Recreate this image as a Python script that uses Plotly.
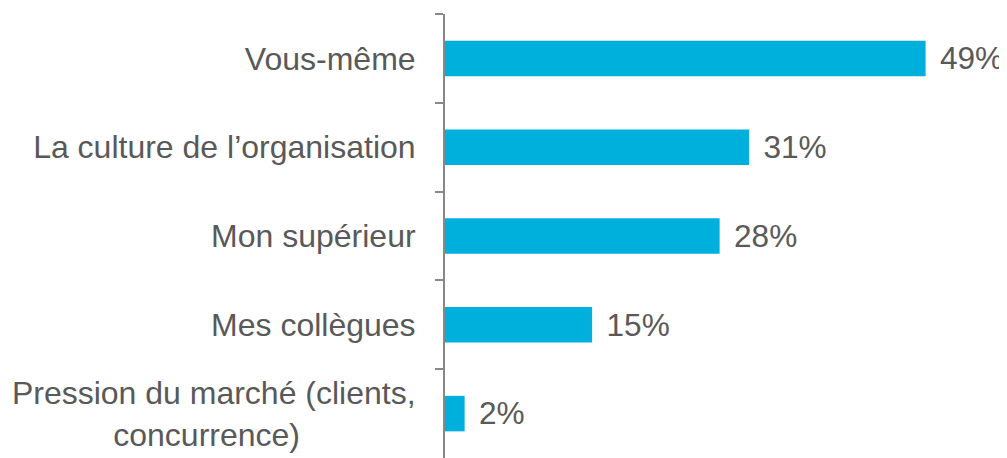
import plotly.graph_objects as go

categories = ["Vous-même", "La culture de l’organisation", "Mon supérieur", "Mes collègues",
              "Pression du marché (clients,<br>concurrence)" + "&nbsp;" * 13]
values = [49, 31, 28, 15, 2]

fig = go.Figure(go.Bar(
    x=values, y=categories, orientation="h",
    marker=dict(color="#00B0DC", line=dict(width=0)),
    width=0.4,
    text=[f"{v}%" for v in values],
    texttemplate=" \u200a%{text}",
    textposition="outside",
    textfont=dict(family="Liberation Sans, Arial", size=32, color="#595959"),
    cliponaxis=False,
))
fig.update_layout(
    width=999, height=450,
    margin=dict(l=437, r=0, t=6, b=0, autoexpand=False),
    paper_bgcolor="white", plot_bgcolor="white",
    showlegend=False,
    font=dict(family="Liberation Sans, Arial", size=32, color="#595959"),
)
fig.update_xaxes(range=[0, 57.3], visible=False, automargin=False)
fig.update_yaxes(
    autorange="reversed", type="category", automargin=False,
    showline=True, linecolor="#888888", linewidth=2,
    ticks="outside", tickson="boundaries", ticklen=8, tickcolor="#888888", tickwidth=2,
    showgrid=False, ticklabelstandoff=21,
    tickfont=dict(family="Liberation Sans, Arial", size=32, color="#595959"),
)
fig.write_html("out.html")
